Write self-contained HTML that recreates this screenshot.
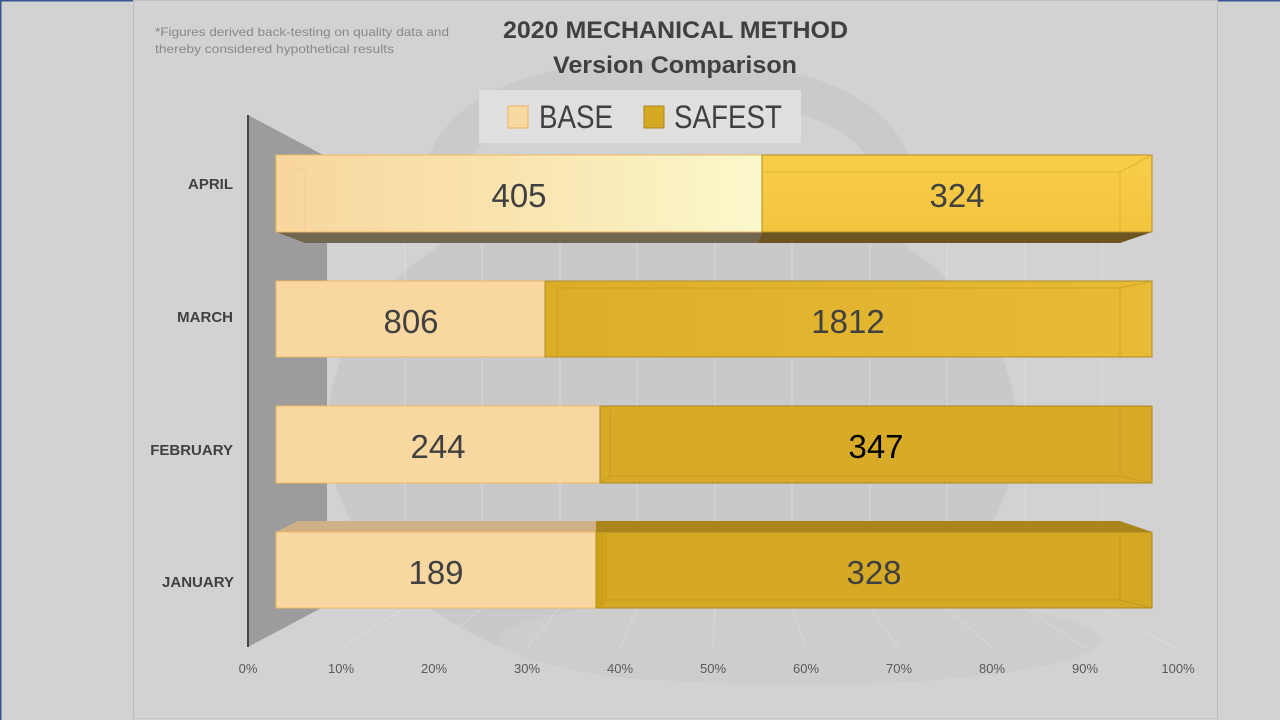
<!DOCTYPE html>
<html><head><meta charset="utf-8"><style>
html,body{margin:0;padding:0;background:#d3d2d3;}
svg{display:block;}
text{font-family:"Liberation Sans",sans-serif;}
</style></head><body>
<svg width="1280" height="720" viewBox="0 0 1280 720" xmlns="http://www.w3.org/2000/svg">
<defs>
<linearGradient id="aprBase" x1="0" x2="1" y1="0" y2="0">
<stop offset="0" stop-color="#f8d69e"/><stop offset="0.45" stop-color="#f9e3ad"/><stop offset="1" stop-color="#fbf8cc"/>
</linearGradient>
<linearGradient id="aprSafe" x1="0" x2="0" y1="0" y2="1">
<stop offset="0" stop-color="#f8cd48"/><stop offset="1" stop-color="#f2c53f"/>
</linearGradient>
<linearGradient id="marSafe" x1="0" x2="1" y1="0" y2="0">
<stop offset="0" stop-color="#dcae28"/><stop offset="1" stop-color="#e8bb36"/>
</linearGradient>
</defs>
<!-- background -->
<rect x="0" y="0" width="1280" height="720" fill="#d3d2d3"/>
<!-- kettlebell silhouette -->
<path d="M440 215 C 430 120, 520 80, 670 78 C 820 80, 905 120, 900 215" fill="none" stroke="#cbcacb" stroke-width="38"/>
<ellipse cx="672" cy="430" rx="345" ry="250" fill="#cac9ca"/>
<ellipse cx="800" cy="640" rx="300" ry="45" fill="#cecdce"/>
<!-- chart frame lines -->
<line x1="133.5" y1="0" x2="133.5" y2="720" stroke="#bdbdbd" stroke-width="1"/>
<line x1="1217.5" y1="0" x2="1217.5" y2="720" stroke="#bdbdbd" stroke-width="1"/>
<line x1="133" y1="718.5" x2="1218" y2="718.5" stroke="#c4c4c4" stroke-width="1"/>
<line x1="133" y1="0.5" x2="1218" y2="0.5" stroke="#c0c0c0" stroke-width="1"/>
<rect x="0" y="0" width="133" height="1.5" fill="#3a5590"/>
<rect x="1218" y="0" width="62" height="1.5" fill="#3a5590"/>
<rect x="0" y="0" width="1.5" height="720" fill="#3a5590"/>
<!-- back wall gridlines -->
<g stroke="#e3e3e3" stroke-width="1" opacity="0.6">
<line x1="405" y1="157" x2="405" y2="605"/><line x1="482" y1="157" x2="482" y2="605"/>
<line x1="560" y1="157" x2="560" y2="605"/><line x1="637" y1="157" x2="637" y2="605"/>
<line x1="715" y1="157" x2="715" y2="605"/><line x1="792" y1="157" x2="792" y2="605"/>
<line x1="870" y1="157" x2="870" y2="605"/><line x1="947" y1="157" x2="947" y2="605"/>
<line x1="1025" y1="157" x2="1025" y2="605"/><line x1="1102" y1="157" x2="1102" y2="605"/>
</g>
<!-- floor gridlines -->
<g stroke="#e4e4e4" stroke-width="1" opacity="0.45">
<line x1="405" y1="608" x2="341" y2="648"/><line x1="482" y1="608" x2="434" y2="648"/>
<line x1="560" y1="608" x2="527" y2="648"/><line x1="637" y1="608" x2="620" y2="648"/>
<line x1="715" y1="608" x2="713" y2="648"/><line x1="792" y1="608" x2="806" y2="648"/>
<line x1="870" y1="608" x2="899" y2="648"/><line x1="947" y1="608" x2="992" y2="648"/>
<line x1="1025" y1="608" x2="1085" y2="648"/><line x1="1102" y1="608" x2="1175" y2="648"/>
</g>
<!-- side wall -->
<polygon points="248,115 327,157 327,605 248,647" fill="#9c9c9c"/>
<line x1="248" y1="115" x2="248" y2="647" stroke="#454545" stroke-width="2"/>

<!-- APRIL -->
<polygon points="276,232 762,232 758,243 305,243" fill="#736651"/>
<polygon points="762,232 1152,232 1120,243 758,243" fill="#6b5523"/>
<rect x="276" y="155" width="486" height="77" fill="url(#aprBase)" stroke="#efb862" stroke-width="1"/>
<rect x="762" y="155" width="390" height="77" fill="url(#aprSafe)" stroke="#b08c2a" stroke-width="1"/>
<g stroke="#d9ae30" stroke-width="1" fill="none" opacity="0.8">
<line x1="762" y1="172" x2="1120" y2="172"/><line x1="1120" y1="172" x2="1120" y2="232"/>
<line x1="1120" y1="172" x2="1152" y2="155"/>
</g>
<line x1="305" y1="172" x2="305" y2="232" stroke="#f3cf90" stroke-width="1"/>
<line x1="276" y1="155" x2="305" y2="172" stroke="#f3cf90" stroke-width="1"/>

<!-- MARCH -->
<rect x="276" y="281" width="269" height="76" fill="#f8d8a0" stroke="#efb862" stroke-width="1"/>
<rect x="545" y="281" width="607" height="76" fill="url(#marSafe)" stroke="#b08c2a" stroke-width="1"/>
<g stroke="#c99e22" stroke-width="1" fill="none" opacity="0.8">
<line x1="557" y1="288" x2="1120" y2="288"/><line x1="557" y1="288" x2="557" y2="357"/>
<line x1="545" y1="281" x2="557" y2="288"/>
<line x1="1120" y1="288" x2="1120" y2="357"/><line x1="1120" y1="288" x2="1152" y2="281"/>
</g>

<!-- FEBRUARY -->
<rect x="276" y="406" width="324" height="77" fill="#f8d8a0" stroke="#efb862" stroke-width="1"/>
<rect x="600" y="406" width="552" height="77" fill="#d7ab27" stroke="#a8861f" stroke-width="1"/>
<g stroke="#c59a1e" stroke-width="1" fill="none" opacity="0.8">
<line x1="610" y1="409" x2="610" y2="476"/><line x1="610" y1="476" x2="1120" y2="476"/>
<line x1="600" y1="483" x2="610" y2="476"/>
<line x1="1120" y1="409" x2="1120" y2="476"/><line x1="1120" y1="476" x2="1152" y2="483"/>
</g>

<!-- JANUARY -->
<polygon points="276,532 298,521 596,521 596,532" fill="#cfb087"/>
<polygon points="596,532 596,521 1120,521 1152,532" fill="#a9851c"/>
<rect x="276" y="532" width="320" height="76" fill="#f8d8a0" stroke="#efb862" stroke-width="1"/>
<rect x="596" y="532" width="556" height="76" fill="#d5a924" stroke="#a8861f" stroke-width="1"/>
<g stroke="#c09619" stroke-width="1" fill="none" opacity="0.8">
<line x1="606" y1="532" x2="606" y2="600"/><line x1="606" y1="600" x2="1120" y2="600"/>
<line x1="596" y1="608" x2="606" y2="600"/>
<line x1="1120" y1="532" x2="1120" y2="600"/><line x1="1120" y1="600" x2="1152" y2="608"/>
</g>
<rect x="596" y="532" width="8" height="76" fill="#c99d17" opacity="0.7"/>

<!-- value labels -->
<g font-size="33" fill="#404040" text-anchor="middle">
<text x="519" y="207">405</text>
<text x="957" y="207">324</text>
<text x="411" y="333">806</text>
<text x="848" y="333">1812</text>
<text x="438" y="458">244</text>
<text x="876" y="458" fill="#000">347</text>
<text x="436" y="584">189</text>
<text x="874" y="584">328</text>
</g>

<!-- category labels -->
<g font-size="15" font-weight="bold" fill="#404040" text-anchor="end">
<text x="233" y="189">APRIL</text>
<text x="233" y="322">MARCH</text>
<text x="233" y="455">FEBRUARY</text>
<text x="234" y="587">JANUARY</text>
</g>

<!-- axis labels -->
<g font-size="13" fill="#595959" text-anchor="middle">
<text x="248" y="673">0%</text><text x="341" y="673">10%</text><text x="434" y="673">20%</text>
<text x="527" y="673">30%</text><text x="620" y="673">40%</text><text x="713" y="673">50%</text>
<text x="806" y="673">60%</text><text x="899" y="673">70%</text><text x="992" y="673">80%</text>
<text x="1085" y="673">90%</text><text x="1178" y="673">100%</text>
</g>

<!-- title -->
<text x="503" y="38" font-size="24" font-weight="bold" fill="#404040" textLength="345" lengthAdjust="spacingAndGlyphs">2020 MECHANICAL METHOD</text>
<text x="553" y="73" font-size="24" font-weight="bold" fill="#404040" textLength="244" lengthAdjust="spacingAndGlyphs">Version Comparison</text>

<!-- footnote -->
<text x="155" y="36" font-size="12" fill="#888888" textLength="294" lengthAdjust="spacingAndGlyphs">*Figures derived back-testing on quality data and</text>
<text x="155" y="53" font-size="12" fill="#888888" textLength="239" lengthAdjust="spacingAndGlyphs">thereby considered hypothetical results</text>

<!-- legend -->
<rect x="479" y="90" width="322" height="53" fill="#e0dfe0"/>
<rect x="508" y="106" width="20" height="22" fill="#f9d9a2" stroke="#efb060" stroke-width="1"/>
<text x="539" y="128" font-size="32" fill="#404040" textLength="74" lengthAdjust="spacingAndGlyphs">BASE</text>
<rect x="644" y="106" width="20" height="22" fill="#d6a923" stroke="#a8861f" stroke-width="1"/>
<text x="674" y="128" font-size="32" fill="#404040" textLength="108" lengthAdjust="spacingAndGlyphs">SAFEST</text>
</svg>
</body></html>
